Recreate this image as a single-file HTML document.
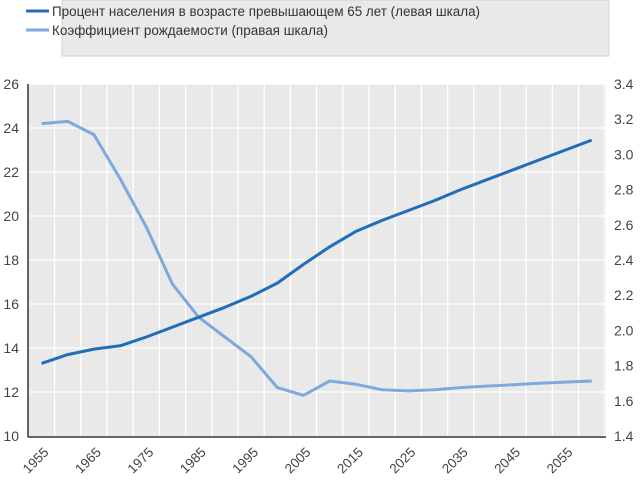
<!DOCTYPE html>
<html><head><meta charset="utf-8"><style>body{margin:0;background:#fff}</style></head><body>
<svg width="640" height="485" xmlns="http://www.w3.org/2000/svg" font-family="Liberation Sans, sans-serif">
<rect x="62" y="0" width="547" height="56" fill="#e9e9e9" stroke="#d4d4d4"/>
<line x1="26" y1="11" x2="49" y2="11" stroke="#1f6eb7" stroke-width="3"/>
<text x="52" y="16" font-size="13.5" fill="#333" textLength="428" lengthAdjust="spacingAndGlyphs">Процент населения в возрасте превышающем 65 лет (левая шкала)</text>
<line x1="26" y1="30" x2="49" y2="30" stroke="#7ea9dd" stroke-width="3"/>
<text x="52" y="35" font-size="13.5" fill="#333" textLength="276" lengthAdjust="spacingAndGlyphs">Коэффициент рождаемости (правая шкала)</text>
<rect x="28" y="84" width="578" height="352" fill="#e9e9e9"/>
<g stroke="#fff" stroke-width="1.3" id="g"></g>
<g id="lab" font-size="14" fill="#444"></g>
<polyline id="l2" fill="none" stroke="#7ea9dd" stroke-width="3" stroke-linejoin="round"/>
<polyline id="l1" fill="none" stroke="#1f6eb7" stroke-width="3" stroke-linejoin="round"/>
<line x1="28" y1="84" x2="28" y2="437" stroke="#333" stroke-width="1.5"/>
<line x1="28" y1="437" x2="606" y2="437" stroke="#333" stroke-width="1.5"/>
</svg>
<script>
const ns="http://www.w3.org/2000/svg",g=document.getElementById('g'),lab=document.getElementById('lab');
function el(p,t,a,txt){const e=document.createElementNS(ns,t);for(const k in a)e.setAttribute(k,a[k]);if(txt)e.textContent=txt;p.appendChild(e);return e;}
const Y=v=>436-(v-10)*22, X=i=>41.5+i*26.2;
for(let v=12;v<=26;v+=2)el(g,'line',{x1:28,x2:606,y1:Y(v),y2:Y(v)});
for(let i=0;i<22;i++)el(g,'line',{x1:X(i)+13.1,x2:X(i)+13.1,y1:84,y2:436});
for(let v=10;v<=26;v+=2)el(lab,'text',{x:19,y:Y(v)+5,'text-anchor':'end'},v);
for(let k=0;k<=10;k++){const v=(1.4+k*0.2).toFixed(1);el(lab,'text',{x:614,y:Y(10+k*1.6)+5},v);}
for(let i=0;i<22;i+=2){const x=X(i)+8,y=453;el(lab,'text',{x:x,y:y,'text-anchor':'end',transform:`rotate(-45 ${x} ${y})`,'font-size':13.5},1955+i*5);}
const a=[13.3,13.7,13.95,14.1,14.5,14.95,15.4,15.85,16.35,16.95,17.8,18.6,19.3,19.8,20.25,20.7,21.2,21.65,22.1,22.55,23.0,23.45];
const b=[24.2,24.3,23.7,21.7,19.5,16.9,15.4,14.5,13.6,12.2,11.85,12.5,12.35,12.1,12.05,12.1,12.2,12.27,12.33,12.4,12.45,12.5];
document.getElementById('l1').setAttribute('points',a.map((v,i)=>X(i)+','+Y(v)).join(' '));
document.getElementById('l2').setAttribute('points',b.map((v,i)=>X(i)+','+Y(v)).join(' '));
</script>
</body></html>
